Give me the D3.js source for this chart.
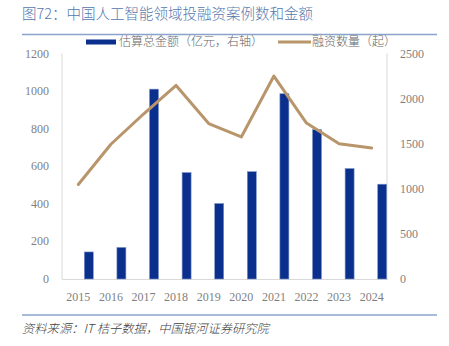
<!DOCTYPE html>
<html><head><meta charset="utf-8">
<script src="https://cdn.jsdelivr.net/npm/d3@7"></script>
<style>body{margin:0;background:#fff}svg{display:block}</style>
</head><body>
<svg id="c" width="449" height="346"></svg>
<script>
const years = ["2015","2016","2017","2018","2019","2020","2021","2022","2023","2024"];
const amount = [300, 350, 2105, 1180, 837, 1190, 2054, 1656, 1225, 1051]; // 估算总金额（亿元，右轴）
const count = [503, 717, 878, 1030, 827, 756, 1080, 830, 720, 697];     // 融资数量（起）
const leftTicks = [0,200,400,600,800,1000,1200];
const rightTicks = [0,500,1000,1500,2000,2500];

const svg = d3.select("#c");
const L = 62, R = 388, T = 53.5, B = 279;
const x = d3.scaleBand().domain(years).range([L, R]).padding(0);
const yL = d3.scaleLinear().domain([0,1200]).range([B, T]);
const yR = d3.scaleLinear().domain([0,2500]).range([B, T]);
const numFont = "'Liberation Serif', serif";
const lf = "'Noto Sans CJK SC', sans-serif";

// title
svg.append("text").attr("x",22).attr("y",19).attr("font-family",lf).attr("font-weight",300)
  .attr("font-size",14.5).attr("fill","#5577ad").text("图72：中国人工智能领域投融资案例数和金额");
svg.append("line").attr("x1",22).attr("x2",437).attr("y1",34.5).attr("y2",34.5).attr("stroke","#8aa3cb").attr("stroke-width",1.3);

// axes lines
svg.append("line").attr("x1",L).attr("x2",L).attr("y1",T).attr("y2",B).attr("stroke","#d9d9d9");
svg.append("line").attr("x1",R-1).attr("x2",R-1).attr("y1",T).attr("y2",B).attr("stroke","#d9d9d9");
svg.append("line").attr("x1",L).attr("x2",R).attr("y1",B+0.5).attr("y2",B+0.5).attr("stroke","#d9d9d9");

// tick labels
svg.selectAll(".lt").data(leftTicks).join("text").attr("x",49).attr("y",d=>yL(d)+4)
  .attr("text-anchor","end").attr("font-family",numFont).attr("font-size",12).attr("fill","#7f7f7f").text(d=>d);
svg.selectAll(".rt").data(rightTicks).join("text").attr("x",400).attr("y",d=>yR(d)+4)
  .attr("text-anchor","start").attr("font-family",numFont).attr("font-size",12).attr("fill","#7f7f7f").text(d=>d);
svg.selectAll(".xt").data(years).join("text").attr("x",d=>x(d)+x.bandwidth()/2).attr("y",301)
  .attr("text-anchor","middle").attr("font-family",numFont).attr("font-size",12).attr("fill","#7f7f7f").text(d=>d);

// bars
svg.selectAll(".bar").data(years).join("rect")
  .attr("x",(d)=>x(d)+x.bandwidth()/2+6).attr("width",9)
  .attr("y",(d,i)=>yR(amount[i])).attr("height",(d,i)=>B-yR(amount[i]))
  .attr("fill","#0a2f8d").attr("stroke","#7d95c8").attr("stroke-width",0.6);

// line
const line = d3.line().x((d,i)=>x(years[i])+x.bandwidth()/2).y(d=>yL(d));
svg.append("path").datum(count).attr("d",line).attr("fill","none")
  .attr("stroke","#b8956a").attr("stroke-width",3).attr("stroke-linejoin","round").attr("stroke-linecap","round");

// legend
svg.append("rect").attr("x",86).attr("y",39.5).attr("width",30).attr("height",5).attr("fill","#0a2f8d");
svg.append("text").attr("x",119).attr("y",46).attr("font-family",lf).attr("font-weight",300).attr("font-size",12).attr("fill","#666").text("估算总金额（亿元，右轴）");
svg.append("line").attr("x1",278).attr("x2",311).attr("y1",42).attr("y2",42).attr("stroke","#b8956a").attr("stroke-width",3);
svg.append("text").attr("x",312).attr("y",46).attr("font-family",lf).attr("font-weight",300).attr("font-size",12).attr("fill","#666").text("融资数量（起）");

// footer
svg.append("line").attr("x1",22).attr("x2",437).attr("y1",315).attr("y2",315).attr("stroke","#8aa3cb").attr("stroke-width",1.3);
svg.append("text").attr("x",22).attr("y",333).attr("font-family",lf).attr("font-weight",300).attr("font-size",12.3).attr("font-style","italic")
  .attr("fill","#404040").text("资料来源：IT 桔子数据，中国银河证券研究院");
</script>
</body></html>
